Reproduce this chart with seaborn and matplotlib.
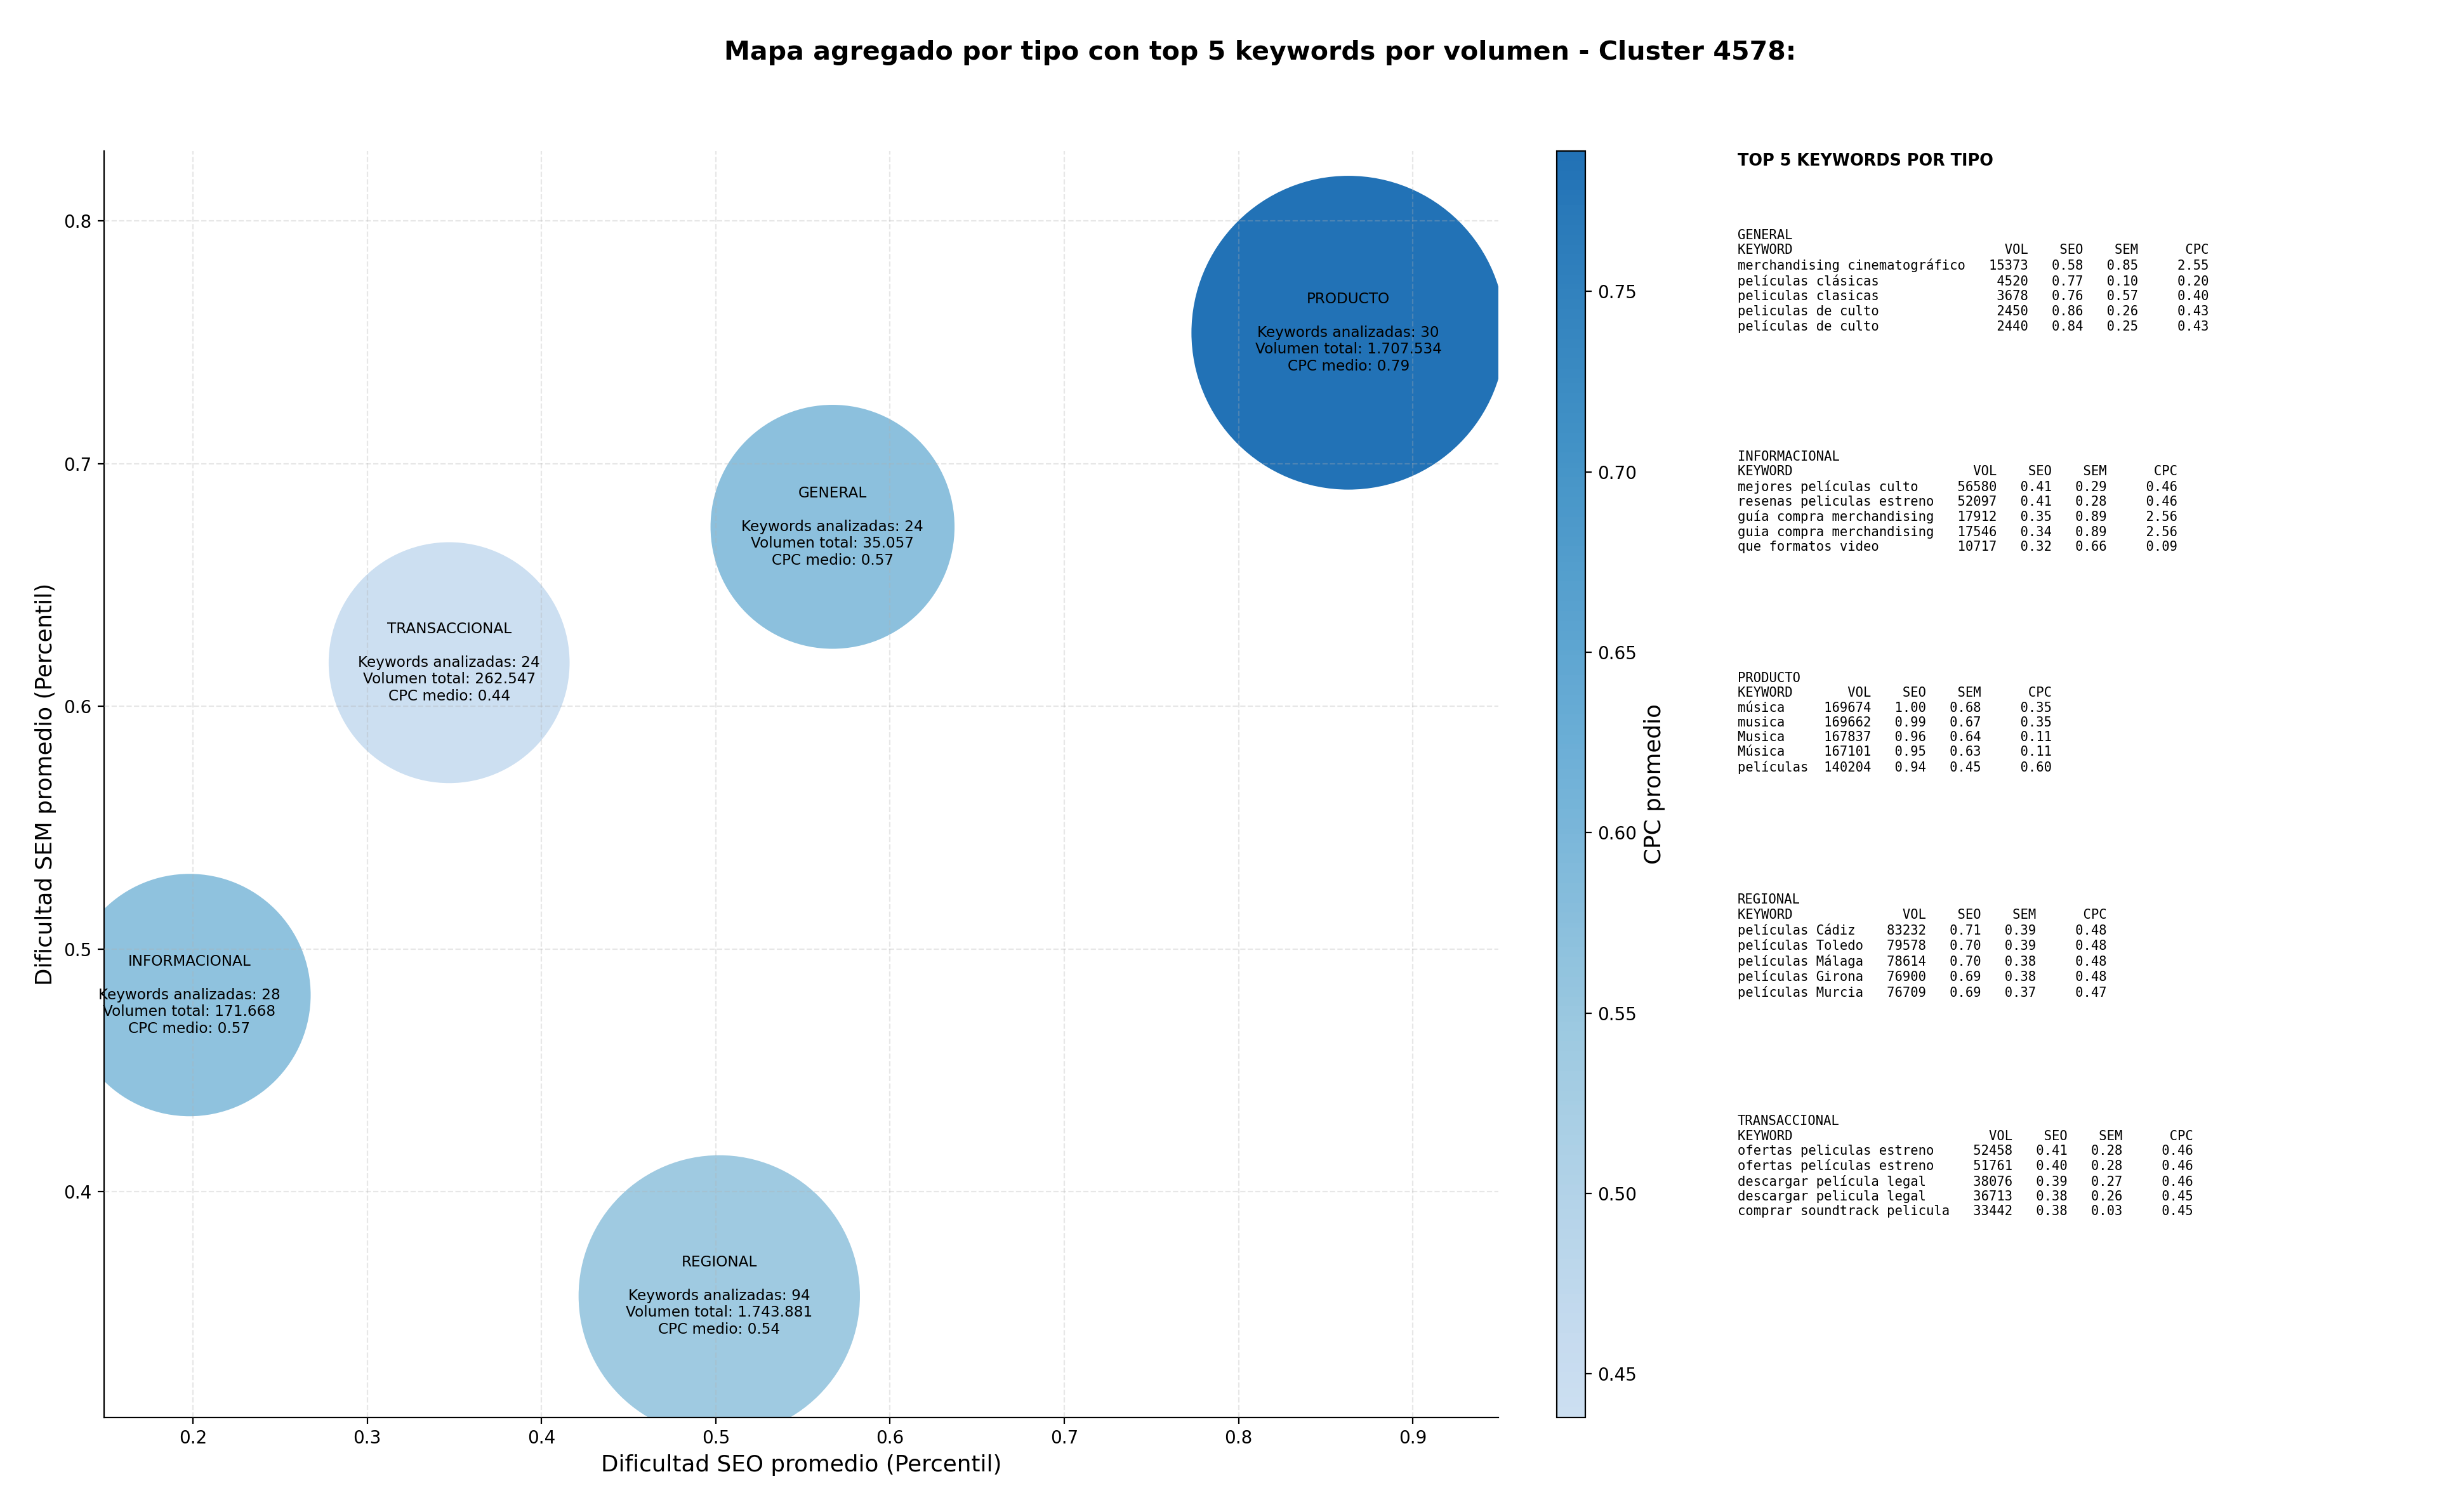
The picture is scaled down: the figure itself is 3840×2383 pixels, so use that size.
import numpy as np
import pandas as pd
import matplotlib
matplotlib.use("Agg")
import matplotlib.pyplot as plt
import seaborn as sns
from matplotlib.colors import LinearSegmentedColormap, Normalize
from matplotlib.cm import ScalarMappable

# ---------------- data ----------------
tipos = ["GENERAL", "INFORMACIONAL", "PRODUCTO", "REGIONAL", "TRANSACCIONAL"]
seo_medio = [0.567, 0.198, 0.863, 0.502, 0.347]
sem_medio = [0.674, 0.481, 0.754, 0.357, 0.618]
cpc_medio = [0.572, 0.568, 0.789, 0.542, 0.438]
keywords_analizadas = [24, 28, 30, 94, 24]
volumen_total = [35057, 171668, 1707534, 1743881, 262547]
area_burbuja = [19160, 18910, 31700, 25470, 18680]

top_general_kw = ["merchandising cinematográfico", "películas clásicas", "peliculas clasicas",
                  "peliculas de culto", "películas de culto"]
top_general_vol = [15373, 4520, 3678, 2450, 2440]
top_general_seo = [0.58, 0.77, 0.76, 0.86, 0.84]
top_general_sem = [0.85, 0.10, 0.57, 0.26, 0.25]
top_general_cpc = [2.55, 0.20, 0.40, 0.43, 0.43]

top_info_kw = ["mejores películas culto", "resenas peliculas estreno", "guía compra merchandising",
               "guia compra merchandising", "que formatos video"]
top_info_vol = [56580, 52097, 17912, 17546, 10717]
top_info_seo = [0.41, 0.41, 0.35, 0.34, 0.32]
top_info_sem = [0.29, 0.28, 0.89, 0.89, 0.66]
top_info_cpc = [0.46, 0.46, 2.56, 2.56, 0.09]

top_prod_kw = ["música", "musica", "Musica", "Música", "películas"]
top_prod_vol = [169674, 169662, 167837, 167101, 140204]
top_prod_seo = [1.00, 0.99, 0.96, 0.95, 0.94]
top_prod_sem = [0.68, 0.67, 0.64, 0.63, 0.45]
top_prod_cpc = [0.35, 0.35, 0.11, 0.11, 0.60]

top_reg_kw = ["películas Cádiz", "películas Toledo", "películas Málaga",
              "películas Girona", "películas Murcia"]
top_reg_vol = [83232, 79578, 78614, 76900, 76709]
top_reg_seo = [0.71, 0.70, 0.70, 0.69, 0.69]
top_reg_sem = [0.39, 0.39, 0.38, 0.38, 0.37]
top_reg_cpc = [0.48, 0.48, 0.48, 0.48, 0.47]

top_trans_kw = ["ofertas peliculas estreno", "ofertas películas estreno", "descargar película legal",
                "descargar pelicula legal", "comprar soundtrack pelicula"]
top_trans_vol = [52458, 51761, 38076, 36713, 33442]
top_trans_seo = [0.41, 0.40, 0.39, 0.38, 0.38]
top_trans_sem = [0.28, 0.28, 0.27, 0.26, 0.03]
top_trans_cpc = [0.46, 0.46, 0.46, 0.45, 0.45]

tops = {
    "GENERAL": (top_general_kw, top_general_vol, top_general_seo, top_general_sem, top_general_cpc),
    "INFORMACIONAL": (top_info_kw, top_info_vol, top_info_seo, top_info_sem, top_info_cpc),
    "PRODUCTO": (top_prod_kw, top_prod_vol, top_prod_seo, top_prod_sem, top_prod_cpc),
    "REGIONAL": (top_reg_kw, top_reg_vol, top_reg_seo, top_reg_sem, top_reg_cpc),
    "TRANSACCIONAL": (top_trans_kw, top_trans_vol, top_trans_seo, top_trans_sem, top_trans_cpc),
}

df = pd.DataFrame({
    "tipo": tipos, "seo": seo_medio, "sem": sem_medio, "cpc": cpc_medio,
    "n": keywords_analizadas, "vol": volumen_total, "area": area_burbuja,
})

# ---------------- style ----------------
sns.set_style("ticks")
plt.rcParams["font.family"] = ["DejaVu Sans"]
for k in ["text.color", "axes.labelcolor", "xtick.color", "ytick.color", "axes.edgecolor"]:
    plt.rcParams[k] = "black"

fig = plt.figure(figsize=(19.2, 11.915), dpi=200)
ax = fig.add_axes([0.0427, 0.0627, 0.5721, 0.8376])

base = plt.get_cmap("Blues")
cmap = LinearSegmentedColormap.from_list("blues_trunc", base(np.linspace(0.22, 0.745, 256)))
norm = Normalize(vmin=min(cpc_medio), vmax=max(cpc_medio))

sns.scatterplot(data=df, x="seo", y="sem", hue="cpc", palette=cmap, hue_norm=norm,
                size="area", sizes=(min(area_burbuja), max(area_burbuja)),
                size_norm=(min(area_burbuja), max(area_burbuja)),
                linewidth=0, legend=False, ax=ax, zorder=1)

for _, r in df.iterrows():
    vol_txt = f"{r['vol']:,}".replace(",", ".")
    label = (f"{r['tipo']}\n\nKeywords analizadas: {r['n']}\n"
             f"Volumen total: {vol_txt}\nCPC medio: {r['cpc']:.2f}")
    ax.text(r["seo"], r["sem"], label, ha="center", va="center", fontsize=8.35, zorder=3)

ax.set_xlim(0.149, 0.949)
ax.set_ylim(0.307, 0.829)
ax.set_xticks([0.2, 0.3, 0.4, 0.5, 0.6, 0.7, 0.8, 0.9])
ax.set_yticks([0.4, 0.5, 0.6, 0.7, 0.8])
ax.tick_params(labelsize=10)
ax.set_axisbelow(False)
ax.grid(True, linestyle="--", alpha=0.3, color="#b0b0b0", zorder=2)
ax.set_xlabel("Dificultad SEO promedio (Percentil)", fontsize=12.9)
ax.set_ylabel("Dificultad SEM promedio (Percentil)", fontsize=12.9)
sns.despine(ax=ax)

cax = fig.add_axes([0.6388, 0.0627, 0.0117, 0.8376])
sm = ScalarMappable(norm=norm, cmap=cmap)
cb = fig.colorbar(sm, cax=cax)
cb.set_label("CPC promedio", fontsize=12.9)
cax.tick_params(labelsize=10)
cb.set_ticks([0.45, 0.50, 0.55, 0.60, 0.65, 0.70, 0.75])
cb.ax.set_yticklabels([f"{t:.2f}" for t in [0.45, 0.50, 0.55, 0.60, 0.65, 0.70, 0.75]])

fig.text(0.517, 0.965, "Mapa agregado por tipo con top 5 keywords por volumen - Cluster 4578:",
         ha="center", va="center", fontsize=14.8, fontweight="bold")

fig.text(0.713, 0.899, "TOP 5 KEYWORDS POR TIPO", ha="left", va="top",
         fontsize=9.2, fontweight="bold")

y0 = 0.8485
step = 0.1465
for i, t in enumerate(tipos):
    kws, vols, seos, sems, cpcs = tops[t]
    w = max(len(k) for k in kws)
    lines = [t, f"{'KEYWORD':<{w}}{'VOL':>8}{'SEO':>7}{'SEM':>7}{'CPC':>9}"]
    for k, v, s1, s2, c in zip(kws, vols, seos, sems, cpcs):
        lines.append(f"{k:<{w}}{v:>8}{s1:>7.2f}{s2:>7.2f}{c:>9.2f}")
    fig.text(0.713, y0 - i * step, "\n".join(lines), ha="left", va="top",
             fontsize=7.4, family="DejaVu Sans Mono")

fig.savefig("out.png", dpi=200)
